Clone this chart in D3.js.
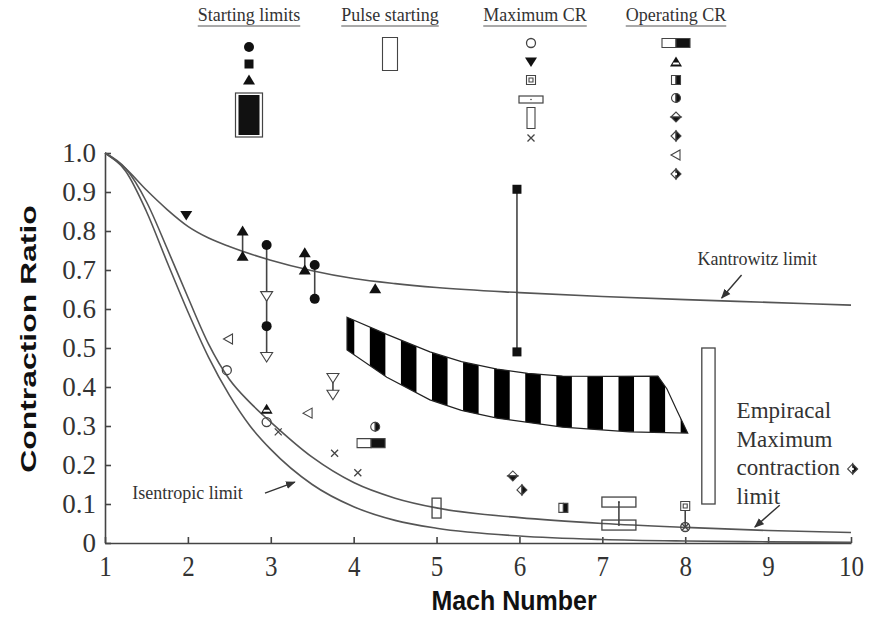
<!DOCTYPE html>
<meta charset="utf-8">
<style>
body { margin: 0; background: #fff; }
svg text { font-family: "Liberation Serif", "Times New Roman", serif; fill: #333; }
.axis-title { font-family: "Liberation Sans", Arial, sans-serif !important; font-weight: bold; fill: #111 !important; }
.curve { fill: none; stroke: #555; stroke-width: 1.6; }
.axis path, .axis line { stroke: #444; stroke-width: 1.6; }
</style>
<svg width="871" height="618"></svg>
<script src="https://d3js.org/d3.v7.min.js"></script>
<script>

// ---- data ----
var xTicks = [1, 2, 3, 4, 5, 6, 7, 8, 9, 10];
var yTicks = [0, 0.1, 0.2, 0.3, 0.4, 0.5, 0.6, 0.7, 0.8, 0.9, 1.0];
var yTickLabels = ["0", "0.1", "0.2", "0.3", "0.4", "0.5", "0.6", "0.7", "0.8", "0.9", "1.0"];

var kantrowitz = [[1, 1.0], [1.25, 0.96], [1.5, 0.905], [1.75, 0.855], [2, 0.812], [2.25, 0.782],
  [2.5, 0.76], [3, 0.725], [3.5, 0.698], [4, 0.678], [4.5, 0.665], [5, 0.655], [6, 0.642],
  [7, 0.632], [8, 0.624], [9, 0.617], [10, 0.61]];
var isentropic = [[1, 1.0], [1.25, 0.953], [1.5, 0.85], [1.75, 0.72], [2, 0.593], [2.25, 0.476],
  [2.5, 0.379], [2.75, 0.3], [3, 0.24], [3.5, 0.15], [4, 0.093], [4.5, 0.058], [5, 0.038],
  [6, 0.018], [7, 0.009], [8, 0.005], [9, 0.003], [10, 0.002]];
var empirical = [[1, 1.0], [1.25, 0.96], [1.5, 0.875], [1.75, 0.755], [2, 0.63], [2.25, 0.51],
  [2.5, 0.42], [2.75, 0.36], [3, 0.31], [3.5, 0.22], [4, 0.155], [4.5, 0.115], [5, 0.09],
  [6, 0.065], [7, 0.05], [8, 0.04], [9, 0.032], [10, 0.027]];

// starting limits
var startCircle = [[2.95, 0.764], [2.95, 0.556], [3.53, 0.713], [3.53, 0.626]];
var startSquare = [[5.97, 0.907], [5.97, 0.49]];
var startTriangle = [[2.66, 0.80], [2.66, 0.735], [3.41, 0.744], [3.41, 0.70], [4.26, 0.652]];
var startArrow = [[2.95, 0.633], [2.95, 0.477], [3.75, 0.423], [3.75, 0.38]];
var bandTop = [[3.92, 0.579], [4.4, 0.535], [4.92, 0.49], [5.3, 0.465], [5.73, 0.446],
  [6.1, 0.435], [6.52, 0.428], [7.1, 0.427], [7.67, 0.428]];
var bandEdge = [[7.78, 0.395], [7.9, 0.34], [8.03, 0.282]];
var bandBottom = [[7.33, 0.285], [6.52, 0.297], [5.73, 0.32], [5.3, 0.34], [4.92, 0.367],
  [4.4, 0.425], [3.92, 0.495]];

// pulse starting [mach, low, high]
var pulse = [[5.0, 0.064, 0.115]];

// maximum CR
var maxCircle = [[2.47, 0.443], [2.95, 0.31], [8.0, 0.041]];
var maxTriDown = [[1.98, 0.84]];
var maxSqInSq = [[8.0, 0.095]];
var maxWide = [[7.2, 0.105], [7.2, 0.046]];
var maxTall = [[8.2, 8.36, 0.1, 0.5]];
var maxCross = [[3.09, 0.285], [3.77, 0.23], [4.05, 0.18], [8.0, 0.041]];

// operating CR
var opHalfRect = [[4.21, 0.256]];
var opHalfTri = [[2.95, 0.343]];
var opHalfSq = [[6.53, 0.09]];
var opHalfCircle = [[4.26, 0.298]];
var opDiamondTB = [[5.92, 0.172]];
var opDiamondLR = [[6.03, 0.136]];
var opTriLeft = [[2.49, 0.523], [3.45, 0.333]];
var opDiamondR = [[10.02, 0.19]];

// vertical range lines [mach, low, high]
var ranges = [[2.66, 0.735, 0.80], [2.95, 0.477, 0.764], [3.41, 0.70, 0.744], [3.53, 0.626, 0.713],
  [3.75, 0.38, 0.423], [5.97, 0.49, 0.907], [7.2, 0.046, 0.105], [8.0, 0.041, 0.095]];

// ---- chart ----
var svg = d3.select("svg");

var x = d3.scaleLinear().domain([1, 10]).range([105, 851]);
var y = d3.scaleLinear().domain([0, 1]).range([543, 153]);

var defs = svg.append("defs");
var stripeW = x(1.375) - x(1);
var pat = defs.append("pattern")
    .attr("id", "stripes")
    .attr("patternUnits", "userSpaceOnUse")
    .attr("x", x(3.82))
    .attr("width", stripeW)
    .attr("height", 10);
pat.append("rect").attr("width", stripeW).attr("height", 10).attr("fill", "#fff");
pat.append("rect").attr("width", stripeW / 2).attr("height", 10).attr("fill", "#000");

defs.append("marker")
    .attr("id", "arrow")
    .attr("viewBox", "0 0 10 10")
    .attr("refX", 9).attr("refY", 5)
    .attr("markerWidth", 7).attr("markerHeight", 7)
    .attr("orient", "auto")
  .append("path")
    .attr("d", "M0,1L10,5L0,9Z")
    .attr("fill", "#333");

// axes
var yAxis = svg.append("g")
    .attr("class", "axis")
    .attr("transform", "translate(" + x(1) + ",0)")
    .call(d3.axisLeft(y).tickValues(yTicks).tickSize(-6).tickSizeOuter(0).tickPadding(9)
      .tickFormat(function(d, i) { return yTickLabels[i]; }));
yAxis.selectAll("text").style("font-size", "27px").attr("fill", "#333");

var xAxis = svg.append("g")
    .attr("class", "axis")
    .attr("transform", "translate(0," + y(0) + ")")
    .call(d3.axisBottom(x).tickValues(xTicks).tickSize(-6).tickSizeOuter(0));
xAxis.selectAll("text")
    .attr("y", null).attr("dy", null)
    .attr("transform", "translate(0,33) scale(1,1.2)")
    .style("font-size", "25px").attr("fill", "#333");
svg.selectAll(".axis .domain").attr("stroke", "#444");

svg.append("text")
    .attr("class", "axis-title")
    .attr("transform", "translate(36,339) rotate(-90) scale(1.45,1)")
    .attr("text-anchor", "middle")
    .style("font-size", "22px")
    .text("Contraction Ratio");

svg.append("text")
    .attr("class", "axis-title")
    .attr("transform", "translate(514,610) scale(1,1.1)")
    .attr("text-anchor", "middle")
    .style("font-size", "25px")
    .text("Mach Number");

// curves
var line = d3.line()
    .x(function(d) { return x(d[0]); })
    .y(function(d) { return y(d[1]); })
    .curve(d3.curveMonotoneX);

[kantrowitz, isentropic, empirical].forEach(function(c) {
  svg.append("path").attr("class", "curve").attr("d", line(c));
});

// striped starting band
svg.append("path")
    .attr("d", d3.line().x(function(d) { return x(d[0]); }).y(function(d) { return y(d[1]); })(
      bandTop.concat(bandEdge, bandBottom)) + "Z")
    .attr("fill", "url(#stripes)")
    .attr("stroke", "#222")
    .attr("stroke-width", 1.2);

// range lines
svg.append("g").selectAll("line")
  .data(ranges)
  .enter().append("line")
    .attr("x1", function(d) { return x(d[0]); })
    .attr("x2", function(d) { return x(d[0]); })
    .attr("y1", function(d) { return y(d[1]); })
    .attr("y2", function(d) { return y(d[2]); })
    .attr("stroke", "#444")
    .attr("stroke-width", 1.6);

// symbol painter
function sym(g, type, cx, cy) {
  var s = g.append("g").attr("transform", "translate(" + cx + "," + cy + ")");
  var ink = "#111", edge = "#444";
  function p(d, fill) {
    return s.append("path").attr("d", d).attr("fill", fill).attr("stroke", edge).attr("stroke-width", 1.1);
  }
  switch (type) {
    case "circle":
      s.append("circle").attr("r", 5).attr("fill", ink); break;
    case "ocircle":
      s.append("circle").attr("r", 4.5).attr("fill", "none").attr("stroke", edge).attr("stroke-width", 1.3); break;
    case "square":
      s.append("rect").attr("x", -4.5).attr("y", -4.5).attr("width", 9).attr("height", 9).attr("fill", ink); break;
    case "tri":
      s.append("path").attr("d", "M0,-5.5L6,4.5L-6,4.5Z").attr("fill", ink); break;
    case "triDown":
      s.append("path").attr("d", "M0,5L6,-4.5L-6,-4.5Z").attr("fill", ink); break;
    case "otriDown":
      p("M0,5L6,-4.5L-6,-4.5Z", "#fff"); break;
    case "otriLeft":
      p("M-5,0L4,-5L4,5Z", "#fff"); break;
    case "sqsq":
      p("M-4.5,-4.5H4.5V4.5H-4.5Z", "#fff");
      p("M-2,-2H2V2H-2Z", "none"); break;
    case "cross":
      s.append("path").attr("d", "M-3.5,-3.5L3.5,3.5M-3.5,3.5L3.5,-3.5").attr("stroke", edge).attr("stroke-width", 1.3); break;
    case "halfRect":
      p("M-14,-4.5H0V4.5H-14Z", "#fff");
      p("M0,-4.5H14V4.5H0Z", ink); break;
    case "halfTri":
      s.append("path").attr("d", "M0,-5.5L6,4.5L-6,4.5Z").attr("fill", ink);
      s.append("path").attr("d", "M-2.5,0.5H2.5L3.6,2.5H-3.6Z").attr("fill", "#fff"); break;
    case "halfSq":
      p("M-4.5,-4.5H0V4.5H-4.5Z", "#fff");
      p("M0,-4.5H4.5V4.5H0Z", ink); break;
    case "halfCircle":
      p("M0,-4.5A4.5,4.5 0 0 0 0,4.5Z", "#fff");
      p("M0,-4.5A4.5,4.5 0 0 1 0,4.5Z", ink); break;
    case "diamondTB":
      p("M-5,0L0,-5L5,0Z", "#fff");
      p("M-5,0L0,5L5,0Z", ink); break;
    case "diamondLR":
      p("M0,-5L-5,0L0,5Z", "#fff");
      p("M0,-5L5,0L0,5Z", ink); break;
    case "diamondR":
      p("M0,-5L-5,0L0,5Z", "#fff");
      p("M0,-5L5,0L0,5Z", ink);
      s.append("circle").attr("r", 1.2).attr("fill", "#fff"); break;
    case "wide":
      s.append("rect").attr("x", -17).attr("y", -5).attr("width", 34).attr("height", 10)
        .attr("fill", "none").attr("stroke", edge).attr("stroke-width", 1.3);
      s.append("circle").attr("r", 1).attr("fill", edge); break;
    case "tall":
      p("M-4,-10.5H4V10.5H-4Z", "#fff"); break;
    case "bigband":
      s.append("rect").attr("x", -13.5).attr("y", -22).attr("width", 27).attr("height", 44)
        .attr("fill", "#fff").attr("stroke", edge).attr("stroke-width", 1.2);
      s.append("rect").attr("x", -10.5).attr("y", -20).attr("width", 21).attr("height", 40).attr("fill", ink); break;
    case "pulse":
      p("M-7.5,-16.5H7.5V16.5H-7.5Z", "#fff"); break;
  }
}

var marks = svg.append("g");

// pulse starting rectangles
pulse.forEach(function(d) {
  marks.append("rect")
      .attr("x", x(d[0]) - 4.5).attr("width", 9)
      .attr("y", y(d[2])).attr("height", y(d[1]) - y(d[2]))
      .attr("fill", "none").attr("stroke", "#444").attr("stroke-width", 1.3);
});
maxTall.forEach(function(d) {
  marks.append("rect")
      .attr("x", x(d[0])).attr("width", x(d[1]) - x(d[0]))
      .attr("y", y(d[3])).attr("height", y(d[2]) - y(d[3]))
      .attr("fill", "#fff").attr("stroke", "#444").attr("stroke-width", 1.3);
});

var series = [
  ["wide", maxWide], ["circle", startCircle], ["square", startSquare], ["tri", startTriangle],
  ["otriDown", startArrow], ["ocircle", maxCircle], ["triDown", maxTriDown], ["sqsq", maxSqInSq],
  ["cross", maxCross], ["halfRect", opHalfRect], ["halfTri", opHalfTri], ["halfSq", opHalfSq],
  ["halfCircle", opHalfCircle], ["diamondTB", opDiamondTB], ["diamondLR", opDiamondLR],
  ["otriLeft", opTriLeft], ["diamondR", opDiamondR]
];
series.forEach(function(s) {
  s[1].forEach(function(d) { sym(marks, s[0], x(d[0]), y(d[1])); });
});

// ---- legend ----
var legend = svg.append("g");
var columns = [
  { title: "Starting limits", cx: 249, items: [["circle", 47], ["square", 64], ["tri", 80], ["bigband", 115]] },
  { title: "Pulse starting", cx: 390, items: [["pulse", 54]] },
  { title: "Maximum CR", cx: 535, items: [["ocircle", 43], ["triDown", 62], ["sqsq", 80], ["wide", 99], ["tall", 118], ["cross", 138]] },
  { title: "Operating CR", cx: 676, items: [["halfRect", 43], ["halfTri", 62], ["halfSq", 80], ["halfCircle", 98],
    ["diamondTB", 117], ["diamondLR", 136], ["otriLeft", 155], ["diamondR", 174]] }
];
columns.forEach(function(c) {
  var t = legend.append("text")
      .attr("x", c.cx).attr("y", 21)
      .attr("text-anchor", "middle")
      .style("font-size", "18px")
      .text(c.title);
  var w = t.node().getComputedTextLength();
  legend.append("line")
      .attr("x1", c.cx - w / 2).attr("x2", c.cx + w / 2)
      .attr("y1", 26).attr("y2", 26)
      .attr("stroke", "#555").attr("stroke-width", 1.2);
  var colX = c.title == "Maximum CR" ? c.cx - 4 : c.cx;
  c.items.forEach(function(it) {
    if (it[0] == "wide") {
      legend.append("rect").attr("x", colX - 12).attr("y", it[1] - 3).attr("width", 24).attr("height", 7)
        .attr("fill", "#fff").attr("stroke", "#444").attr("stroke-width", 1.2);
      legend.append("circle").attr("cx", colX).attr("cy", it[1] + 0.5).attr("r", 0.8).attr("fill", "#444");
    } else {
      sym(legend, it[0], colX, it[1]);
    }
  });
});

// ---- annotations ----
var ann = svg.append("g");
ann.append("text")
    .attr("x", x(8.87)).attr("y", y(0.726) + 5)
    .attr("text-anchor", "middle")
    .style("font-size", "18px")
    .text("Kantrowitz limit");
ann.append("line")
    .attr("x1", x(8.68)).attr("y1", y(0.687))
    .attr("x2", x(8.44)).attr("y2", y(0.628));

ann.append("text")
    .attr("x", x(1.33)).attr("y", y(0.126) + 5)
    .style("font-size", "18px")
    .text("Isentropic limit");
ann.append("line")
    .attr("x1", x(2.93)).attr("y1", y(0.128))
    .attr("x2", x(3.29)).attr("y2", y(0.156));

["Empiracal", "Maximum", "contraction", "limit"].forEach(function(s, i) {
  ann.append("text")
      .attr("x", x(8.62)).attr("y", 418 + i * 28.5)
      .style("font-size", "23px")
      .text(s);
});
ann.append("line")
    .attr("x1", x(9.14)).attr("y1", y(0.097))
    .attr("x2", x(8.84)).attr("y2", y(0.041));

ann.selectAll("line")
    .attr("stroke", "#333")
    .attr("stroke-width", 1.4)
    .attr("marker-end", "url(#arrow)");

</script>
